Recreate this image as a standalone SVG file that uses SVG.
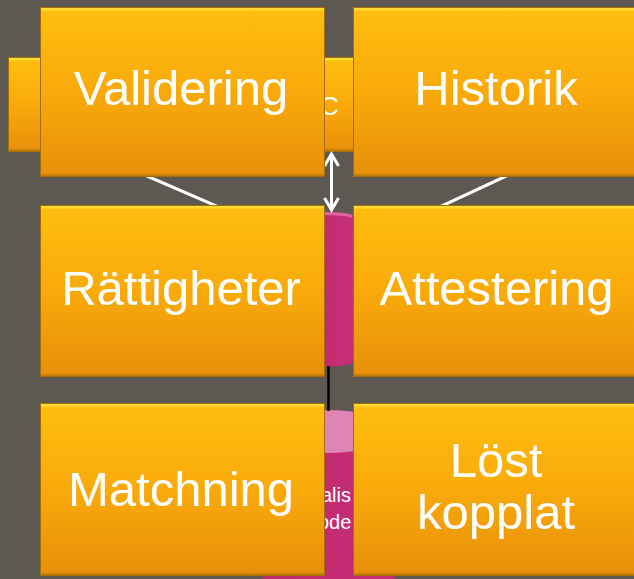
<svg xmlns="http://www.w3.org/2000/svg" width="634" height="579" viewBox="0 0 634 579">
<defs>
<linearGradient id="og" x1="0" y1="0" x2="0" y2="1">
<stop offset="0" stop-color="#FFBE10"/>
<stop offset="0.5" stop-color="#F9AA0A"/>
<stop offset="1" stop-color="#E78F0A"/>
</linearGradient>
<linearGradient id="mg" x1="0" y1="0" x2="1" y2="0">
<stop offset="0" stop-color="#C02A6E"/>
<stop offset="1" stop-color="#C62E75"/>
</linearGradient>
<style>
.box{fill:url(#og);stroke:#A66C06;stroke-width:1}
.hl{fill:#FFE23C;opacity:0.85}
.sh{fill:#B97A08;opacity:0.7}
.lbl{font-family:"Liberation Sans",Arial,sans-serif;font-size:49px;fill:#FFFFFF;text-anchor:middle}
.small{font-family:"Liberation Sans",Arial,sans-serif;fill:#FFFFFF}
.conn{stroke:#FFFFFF;stroke-width:3;fill:none}
</style>
</defs>
<rect x="0" y="0" width="634" height="579" fill="#5E5853"/>

<g id="connectors">
<line class="conn" x1="96" y1="154" x2="330" y2="255"/>
<line class="conn" x1="560" y1="151" x2="330" y2="258"/>
</g>

<g id="back">
<rect class="box" x="8.5" y="57.5" width="620" height="94"/>
<rect class="hl" x="9" y="58" width="619" height="2.5"/>
<rect class="sh" x="9" y="149" width="619" height="2"/>
<text class="small" x="320" y="115" font-size="26">C</text>
</g>

<g id="cylinder1">
<path d="M290,216 A31.5,4 0 0 1 353,216 L353,362 A31.5,5 0 0 1 290,362 Z" fill="url(#mg)"/>
<path d="M291,216.5 A31.5,4 0 0 1 352,216.5" fill="none" stroke="#E064A2" stroke-width="3"/>
</g>

<g id="cylinder2">
<path d="M262.5,431.5 A66,21.5 0 0 1 394.5,431.5 L394.5,579 L262.5,579 Z" fill="url(#mg)"/>
<ellipse cx="328.5" cy="431.5" rx="66" ry="21.5" fill="#DF85B3"/>
<text class="small" x="321" y="502" font-size="20">alis</text>
<text class="small" x="318" y="529" font-size="20">ode</text>
</g>

<g id="connectors2">
<line x1="328.5" y1="366" x2="328.5" y2="411" stroke="#000000" stroke-width="2.5"/>
<line class="conn" x1="331.5" y1="155" x2="331.5" y2="209"/>
<path class="conn" d="M324.5,166 L331.5,154 L338.5,166" stroke-linejoin="miter"/>
<path class="conn" d="M324.5,198 L331.5,210 L338.5,198" stroke-linejoin="miter"/>
</g>

<g id="validering">
<rect class="box" x="40.5" y="7.5" width="284" height="169"/>
<rect class="hl" x="41" y="8" width="283" height="2.5"/>
<rect class="sh" x="41" y="174" width="283" height="2"/>
<text class="lbl" x="181" y="105">Validering</text>
</g>
<g id="historik">
<rect class="box" x="353.5" y="7.5" width="285" height="169"/>
<rect class="hl" x="354" y="8" width="284" height="2.5"/>
<rect class="sh" x="354" y="174" width="284" height="2"/>
<text class="lbl" x="496" y="105">Historik</text>
</g>
<g id="rattigheter">
<rect class="box" x="40.5" y="205.5" width="284" height="171"/>
<rect class="hl" x="41" y="206" width="283" height="2.5"/>
<rect class="sh" x="41" y="374" width="283" height="2"/>
<text class="lbl" x="181" y="305">Rättigheter</text>
</g>
<g id="attestering">
<rect class="box" x="353.5" y="205.5" width="285" height="171"/>
<rect class="hl" x="354" y="206" width="284" height="2.5"/>
<rect class="sh" x="354" y="374" width="284" height="2"/>
<text class="lbl" x="496.5" y="305">Attestering</text>
</g>
<g id="matchning">
<rect class="box" x="40.5" y="403.5" width="284" height="172"/>
<rect class="hl" x="41" y="404" width="283" height="2.5"/>
<rect class="sh" x="41" y="573" width="283" height="2"/>
<text class="lbl" x="181" y="506">Matchning</text>
</g>
<g id="lost-kopplat">
<rect class="box" x="353.5" y="403.5" width="285" height="172"/>
<rect class="hl" x="354" y="404" width="284" height="2.5"/>
<rect class="sh" x="354" y="573" width="284" height="2"/>
<text class="lbl" x="496" y="477">Löst</text>
<text class="lbl" x="496" y="529">kopplat</text>
</g>
</svg>
